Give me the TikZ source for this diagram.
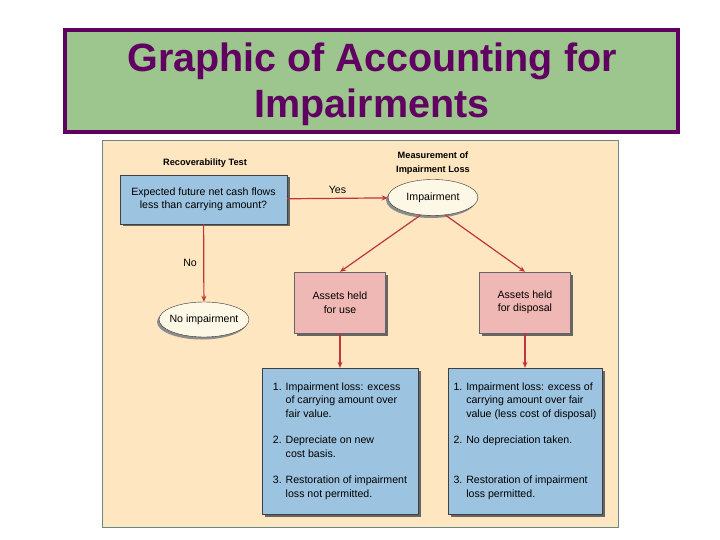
\documentclass[tikz,border=0pt]{standalone}
\usepackage{fontspec}
\setmainfont{Liberation Sans}
\usetikzlibrary{shapes.geometric,arrows.meta,shadows}
\definecolor{titlegreen}{RGB}{157,198,143}
\definecolor{titlepurple}{RGB}{96,0,96}
\definecolor{panelbeige}{RGB}{253,230,192}
\definecolor{panelline}{RGB}{105,135,135}
\definecolor{boxblue}{RGB}{156,196,224}
\definecolor{boxpink}{RGB}{240,184,180}
\definecolor{ovalcream}{RGB}{253,247,230}
\definecolor{arrowred}{RGB}{192,52,62}

\begin{document}
\begin{tikzpicture}[x=1pt,y=-1pt,
    every node/.style={font=\fontsize{10.6}{13.5}\selectfont},
    flow/.style={draw=arrowred,line width=1.2pt,-{Stealth[length=6pt,width=5pt]}},
    shade/.style={drop shadow={shadow xshift=2.5pt,shadow yshift=-2.5pt,fill=black!60,opacity=1}},
    bluebox/.style={rectangle,draw=black!75,fill=boxblue,shade},
    pinkbox/.style={rectangle,draw=black!60,fill=boxpink,shade,align=center,
      minimum width=91pt,minimum height=61pt},
    oval/.style={ellipse,draw=black!80,fill=ovalcream,inner xsep=-6pt,inner ysep=0pt,
      drop shadow={shadow xshift=-2pt,shadow yshift=-2.5pt,fill=black!45,opacity=1}},
    heading/.style={font=\fontsize{9.2}{14}\selectfont\bfseries,align=center}]
  \useasboundingbox (0,0) rectangle (720,540);
  % title
  \draw[draw=titlepurple,fill=titlegreen,line width=4pt] (65,30) rectangle (678,132);
  \node (title) at (372,84) [align=center,text=titlepurple,
    font=\fontsize{39.5}{46}\selectfont\bfseries]
    {Graphic of Accounting for\\Impairments};
  % panel
  \draw[draw=panelline,fill=panelbeige,line width=0.8pt] (102,140) rectangle (618,527);
  \node (rtest) at (205,163) [heading] {Recoverability Test};
  \node (mloss) at (433,163) [heading] {Measurement of\\Impairment Loss};
  \node (test) at (203.5,199.5) [bluebox,align=center,minimum width=167pt,
    minimum height=49pt] {Expected future net cash flows\\less than carrying amount?};
  \node (imp) at (433,197.5) [oval,minimum width=90pt,minimum height=36pt] {Impairment};
  \node (noimp) at (204,319.5) [oval,minimum width=90pt,minimum height=35pt] {No impairment};
  \node (use) at (340,302.5) [pinkbox] {Assets held\\for use};
  \node (disp) at (525,302.5) [pinkbox] {Assets held\\for disposal};
  \node (uselist) at (340,441) [bluebox,align=left,minimum width=156pt,
    minimum height=146pt]
    {1. Impairment loss: excess\\
     \hphantom{1. }of carrying amount over\\
     \hphantom{1. }fair value.\\[13pt]
     2. Depreciate on new\\
     \hphantom{2. }cost basis.\\[13pt]
     3. Restoration of impairment\\
     \hphantom{3. }loss not permitted.};
  \node (displist) at (525,441) [bluebox,align=left,minimum width=154pt,
    minimum height=146pt]
    {1. Impairment loss: excess of\\
     \hphantom{1. }carrying amount over fair\\
     \hphantom{1. }value (less cost of disposal)\\[13pt]
     2. No depreciation taken.\\[26.5pt]
     3. Restoration of impairment\\
     \hphantom{3. }loss permitted.};
  \draw[flow] (test) -- (imp) node[midway,above=1pt] {Yes};
  \draw[flow] (test) -- (noimp) node[midway,left=3pt] {No};
  \draw[flow] (imp.-125) -- (use.north);
  \draw[flow] (imp.-55) -- (disp.north);
  \draw[flow] (use) -- (uselist);
  \draw[flow] (disp) -- (displist);
\end{tikzpicture}
\end{document}
